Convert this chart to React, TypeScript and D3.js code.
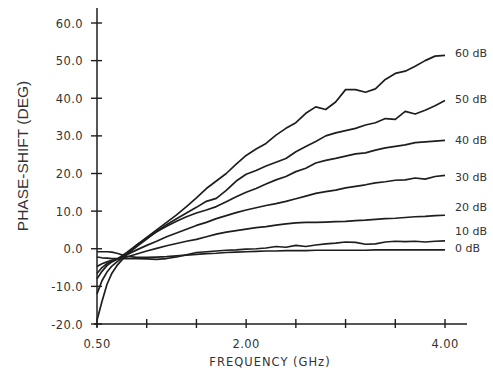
import React from "react";
import * as d3 from "d3";

const freqs = [0.5,0.55,0.6,0.65,0.7,0.8,0.9,1.0,1.1,1.2,1.3,1.4,1.5,1.6,1.7,1.8,1.9,2.0,2.1,2.2,2.3,2.4,2.5,2.6,2.7,2.8,2.9,3.0,3.1,3.2,3.3,3.4,3.5,3.6,3.7,3.8,3.9,4.0];

const s60 = [-19,-14,-9.5,-6.5,-4.5,-1.5,1.0,3.0,5.0,7.0,9.0,11.2,13.5,16.0,18.0,20.0,22.5,24.8,26.5,28.0,30.2,32.0,33.5,36.0,37.7,37.0,39.0,42.3,42.3,41.6,42.5,45.0,46.6,47.2,48.5,50.0,51.2,51.4];
const s50 = [-12,-8.5,-6.2,-4.6,-3.5,-1.5,0.6,2.6,4.6,6.4,8.0,9.5,11.0,12.6,13.4,15.5,18.0,19.8,20.8,22.0,23.0,24.0,25.8,27.2,28.5,30.0,30.8,31.4,32.0,32.9,33.5,34.6,34.4,36.5,35.8,36.8,38.0,39.4];
const s40 = [-8,-6,-4.5,-3.5,-2.8,-1.0,1.0,2.8,4.5,6.0,7.3,8.5,9.5,10.3,11.2,12.5,13.8,15.0,16.0,17.2,18.3,19.2,20.5,21.4,22.8,23.5,24.0,24.6,25.2,25.5,26.2,26.8,27.2,27.6,28.2,28.4,28.6,28.8];
const s30 = [-6.6,-5.0,-4.0,-3.3,-2.8,-1.6,-0.3,0.9,2.0,3.2,4.2,5.2,6.2,7.0,8.0,8.8,9.6,10.3,10.9,11.5,12.0,12.6,13.3,14.0,14.7,15.2,15.6,16.2,16.6,17.0,17.5,17.8,18.2,18.3,18.8,18.5,19.2,19.5];
const s20 = [-4.7,-4.0,-3.5,-3.1,-2.8,-2.2,-1.4,-0.6,0.1,0.8,1.4,2.0,2.5,3.2,3.9,4.4,4.8,5.2,5.6,5.9,6.3,6.6,6.9,7.0,7.0,7.1,7.2,7.3,7.5,7.6,7.8,8.0,8.1,8.3,8.5,8.6,8.8,8.9];
const s10 = [-2.2,-2.4,-2.5,-2.6,-2.6,-2.6,-2.6,-2.7,-2.8,-2.6,-2.2,-1.6,-1.0,-0.8,-0.6,-0.4,-0.3,-0.1,0.0,0.2,0.6,0.4,0.9,0.6,1.0,1.3,1.5,1.8,1.7,1.2,1.3,1.8,2.0,1.9,2.0,1.8,2.0,2.1];
const s0 = [-0.8,-0.8,-0.8,-0.9,-1.2,-2.0,-2.3,-2.3,-2.2,-2.1,-1.9,-1.7,-1.5,-1.3,-1.2,-1.0,-0.9,-0.8,-0.7,-0.6,-0.6,-0.5,-0.5,-0.5,-0.4,-0.4,-0.4,-0.4,-0.4,-0.4,-0.3,-0.3,-0.3,-0.3,-0.3,-0.3,-0.3,-0.3];

const seriesNames = ["60 dB","50 dB","40 dB","30 dB","20 dB","10 dB","0 dB"];
const seriesValues = [s60,s50,s40,s30,s20,s10,s0];
const labelPos = [51.9,39.9,28.8,19.0,11.1,4.7,0.1];

const yTicks = [60,50,40,30,20,10,0,-10,-20];
const yTickLabels = ["60.0","50.0","40.0","30.0","20.0","10.0","0.0","-10.0","-20.0"];
const xTicks = [0.5,1.0,1.5,2.0,2.5,3.0,3.5,4.0];
const xTickLabels = [["0.50",0.5],["2.00",2.0],["4.00",4.0]] as [string,number][];

export default function App() {
  const x = d3.scaleLinear().domain([0.5, 4.0]).range([97, 445]);
  const y = d3.scaleLinear().domain([-20, 60]).range([324, 23]);
  const line = d3.line<[number, number]>().x(d => x(d[0])).y(d => y(d[1])).curve(d3.curveLinear);
  const ink = "#1e1e1e";
  const font = "'DejaVu Sans', sans-serif";
  return (
    <svg width={493} height={379} style={{ position: "absolute", left: 0, top: 0, background: "#fff" }}>
      <rect x={0} y={0} width={493} height={379} fill="#fff" />
      {/* axes */}
      <line x1={x(0.5)} x2={x(0.5)} y1={8} y2={327} stroke={ink} strokeWidth={1.5} />
      <line x1={94} x2={467} y1={y(-20)} y2={y(-20)} stroke={ink} strokeWidth={1.5} />
      {yTicks.map((t, i) => (
        <g key={"yt" + i}>
          <line x1={x(0.5) - 6} x2={x(0.5) + 5} y1={y(t)} y2={y(t)} stroke={ink} strokeWidth={1.4} />
          <text x={83} y={y(t) + 4.5} textAnchor="end" fontFamily={font} fontSize={11.5} letterSpacing={0.4} fill="#333">{yTickLabels[i]}</text>
        </g>
      ))}
      {xTicks.map((t, i) => (
        <line key={"xt" + i} x1={x(t)} x2={x(t)} y1={y(-20) - 5} y2={y(-20) + 4} stroke={ink} strokeWidth={1.4} />
      ))}
      {xTickLabels.map(([lab, v], i) => (
        <text key={"xl" + i} x={x(v)} y={348} textAnchor="middle" fontFamily={font} fontSize={11.5} letterSpacing={0.4} fill="#333">{lab}</text>
      ))}
      {/* curves */}
      {seriesValues.map((vals, i) => (
        <path key={"s" + i} d={line(freqs.map((f, j) => [f, vals[j]] as [number, number])) || ""} fill="none" stroke={ink} strokeWidth={1.7} strokeLinejoin="round" />
      ))}
      {seriesNames.map((n, i) => (
        <text key={"ln" + i} x={455} y={y(labelPos[i]) + 4} fontFamily={font} fontSize={11} fill="#333">{n}</text>
      ))}
      {/* axis titles */}
      <text transform={`translate(28,${(75 + 237) / 2}) rotate(-90)`} textAnchor="middle" fontFamily="'Liberation Sans', Arial, sans-serif" fontSize={15.5} fill="#333">PHASE-SHIFT (DEG)</text>
      <text x={270} y={366} textAnchor="middle" fontFamily={font} fontSize={11.5} letterSpacing={1} fill="#333">FREQUENCY (GHz)</text>
    </svg>
  );
}
